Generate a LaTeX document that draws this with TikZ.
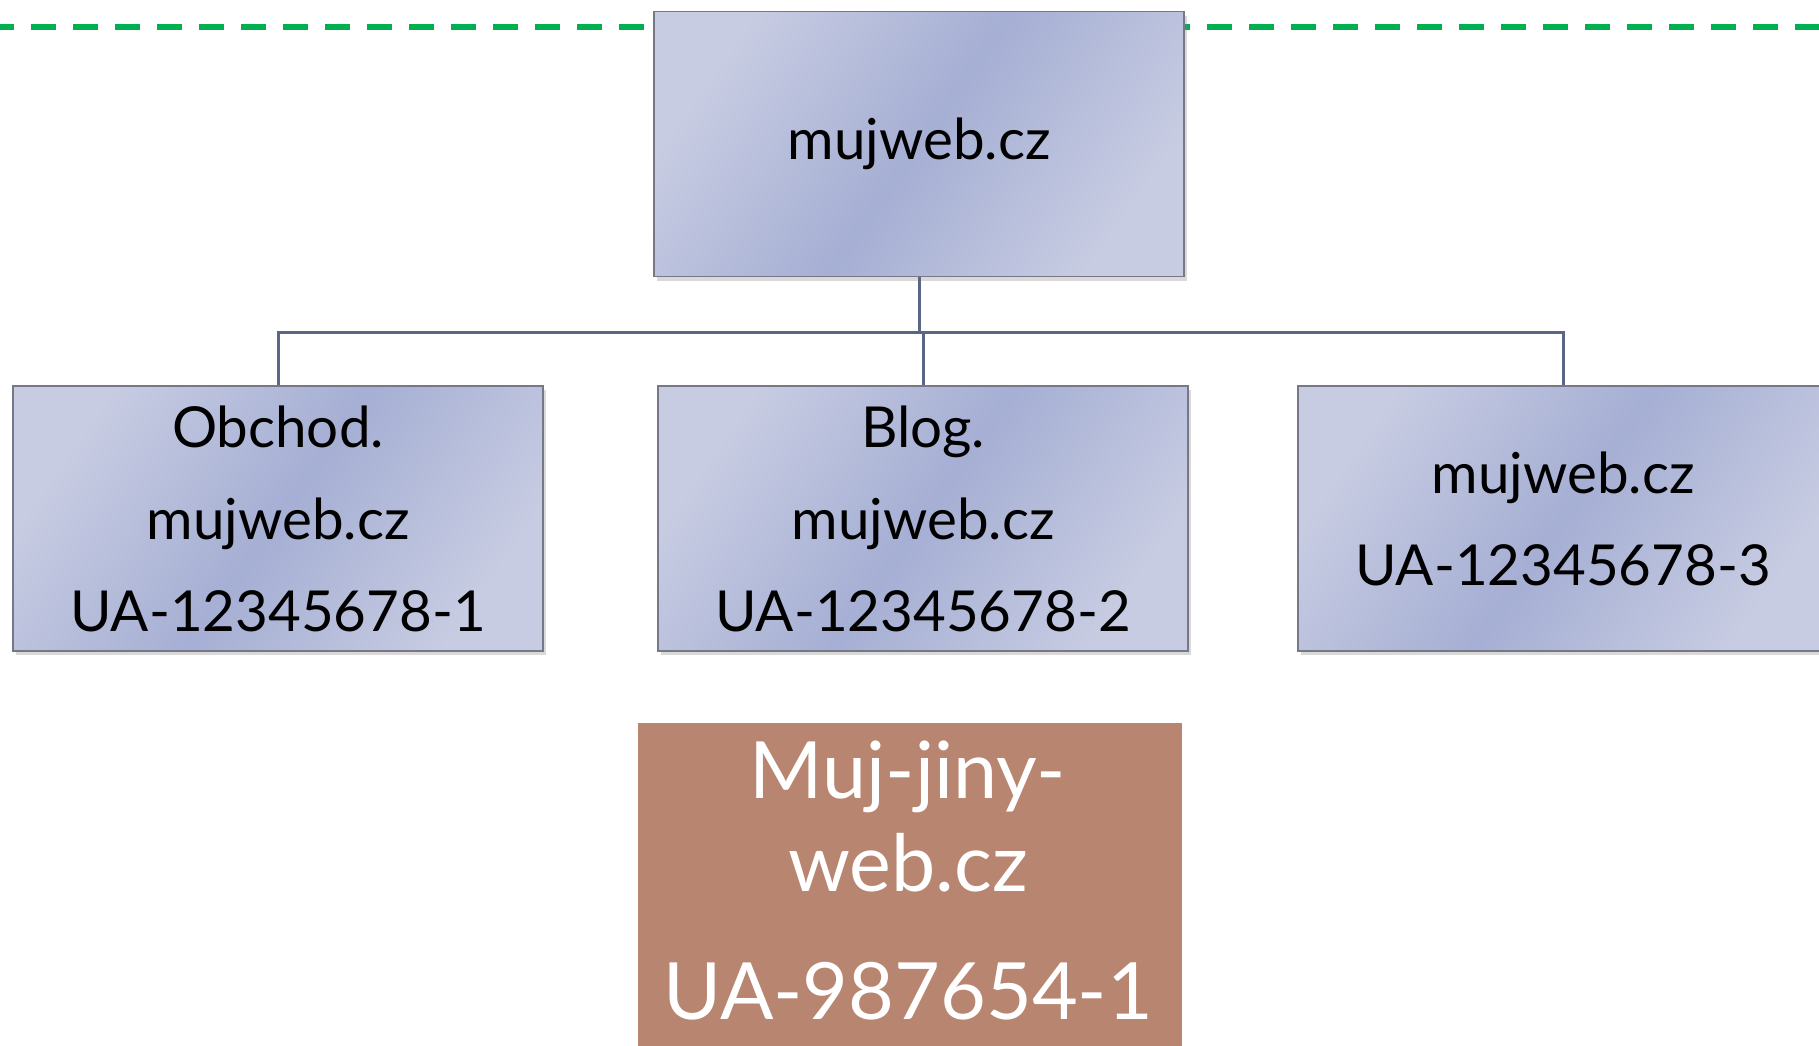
\documentclass[tikz,border=0pt]{standalone}
\usepackage{fontspec}
\setmainfont{Lato}
\usetikzlibrary{shadows}
\definecolor{boxlite}{HTML}{C7CCE2}
\definecolor{boxdark}{HTML}{A6AFD4}
\definecolor{boxline}{HTML}{767888}
\definecolor{connline}{HTML}{5B6585}
\definecolor{webbrown}{HTML}{B88571}
\definecolor{dashgreen}{HTML}{00B050}
\begin{document}
\begin{tikzpicture}[x=1pt,y=-1pt]
\tikzstyle{every node}+=[inner sep=0pt]
\tikzstyle{webbox}=[draw=boxline, line width=1.5pt, minimum width=530pt, minimum height=265pt, left color=boxlite, right color=boxlite, middle color=boxdark, shading angle=55, drop shadow={shadow xshift=3pt, shadow yshift=-4pt, opacity=0.3}, align=center, font=\fontsize{56.5}{92}\selectfont]
\tikzstyle{otherbox}=[fill=webbrown, minimum width=544pt, minimum height=400pt, anchor=north]
\tikzstyle{othertext}=[text=white, align=center, font=\fontsize{79}{93}\selectfont]
\tikzstyle{conn}=[draw=connline, line width=3pt]
\useasboundingbox (0,0) rectangle (1819,1045);
\draw [dashgreen, line width=6pt, dash pattern=on 25pt off 17pt, dash phase=11pt] (0,27) coordinate (dashl) -- (1819,27) coordinate (dashr);
\node [webbox] (top) at (919,144) {mujweb.cz};
\node [webbox] (shop) at (278,518.5) {Obchod.\\mujweb.cz\\UA-12345678-1};
\node [webbox] (blog) at (923,518.5) {Blog.\\mujweb.cz\\UA-12345678-2};
\node [webbox] (main) at (1563,518.5) {mujweb.cz\\UA-12345678-3};
\draw [conn] (top.south) -- ++(0,55.5) coordinate (bus);
\draw [conn] (shop.north) |- (bus) -| (main.north);
\draw [conn] (blog.north) -- (blog.north |- bus);
\node [otherbox] (other) at (910,723) {};
\node [othertext] (othertxt) at (908,881) {Muj-jiny-\\web.cz\\[35pt]UA-987654-1};
\end{tikzpicture}
\end{document}
